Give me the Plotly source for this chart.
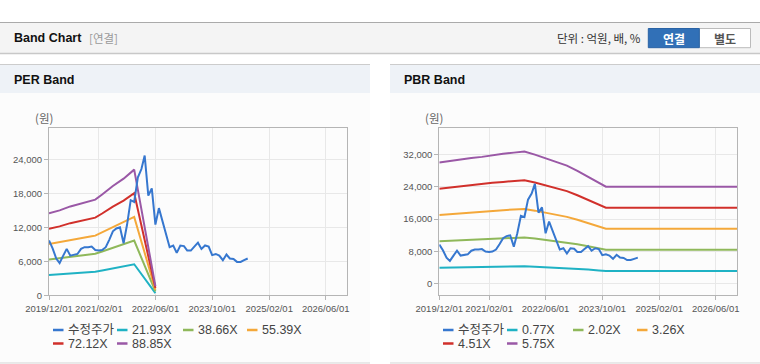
import pandas as pd
import plotly.graph_objects as go

W, H = 760, 364

# ---------------- data ----------------
price_dates = [d.strftime("%Y-%m-%d") for d in pd.date_range("2019-12-01", periods=57, freq="MS")]
price = [9700, 8300, 6500, 5700, 7000, 8200, 7000, 7200, 7300, 8200,
         8500, 8500, 8600, 8000, 7900, 8000, 8500, 9800, 11300, 11800,
         12000, 9200, 12500, 16800, 16500, 20800, 22300, 24700, 17600, 18900,
         12500, 15400, 13000, 10500, 8500, 8800, 7500, 8800, 8700, 7900,
         7900, 8600, 9300, 8200, 8800, 8600, 7100, 7300, 7000, 6200,
         7200, 6500, 6400, 5900, 5900, 6200, 6500]

per_dates = ["2019-12-01", "2020-03-01", "2020-06-01", "2020-09-01", "2020-12-01",
             "2021-01-01", "2021-03-01", "2021-06-01", "2021-09-01", "2021-12-01", "2022-06-01"]
per_names = ["21.93X", "38.66X", "55.39X", "72.12X", "88.85X"]
per_2193 = [3579, 3702, 3875, 3998, 4123, 4171, 4393, 4763, 5085, 5480, 395]
per_3866 = [6309, 6526, 6831, 7048, 7268, 7353, 7744, 8397, 8965, 9661, 696]
per_5539 = [9040, 9350, 9788, 10098, 10413, 10535, 11094, 12031, 12845, 13842, 997]
per_7212 = [11770, 12174, 12744, 13148, 13559, 13717, 14446, 15665, 16725, 18023, 1298]
per_8885 = [14500, 15000, 15700, 16200, 16700, 16900, 17800, 19300, 20600, 22200, 1600]

pbr_dates = ["2019-12-01", "2020-03-01", "2020-06-01", "2020-09-01", "2020-12-01",
             "2021-03-01", "2021-06-01", "2021-09-01", "2021-12-01", "2022-03-01",
             "2022-06-01", "2022-09-01", "2022-12-01", "2023-03-01", "2023-06-01",
             "2023-09-01", "2023-11-01", "2026-12-01"]
pbr_names = ["0.77X", "2.02X", "3.26X", "4.51X", "5.75X"]
pbr_077 = [4011, 4064, 4111, 4158, 4198, 4258, 4299, 4339, 4372, 4272, 4151, 4017, 3910, 3736, 3549, 3334, 3214, 3214]
pbr_202 = [10522, 10662, 10785, 10908, 11013, 11171, 11278, 11383, 11470, 11207, 10890, 10538, 10258, 9801, 9310, 8747, 8431, 8431]
pbr_326 = [16981, 17206, 17405, 17604, 17774, 18028, 18201, 18370, 18510, 18086, 17575, 17007, 16554, 15818, 15025, 14116, 13607, 13607]
pbr_451 = [23493, 23804, 24079, 24354, 24589, 24940, 25179, 25414, 25608, 25021, 24313, 23529, 22902, 21883, 20787, 19528, 18825, 18825]
pbr_575 = [29950, 30350, 30700, 31050, 31350, 31800, 32100, 32400, 32650, 31900, 31000, 30000, 29200, 27900, 26500, 24900, 24000, 24000]

x_tickvals = ["2019-12-01", "2021-02-01", "2022-06-01", "2023-10-01", "2025-02-01", "2026-06-01"]
x_ticktext = ["2019/12/01", "2021/02/01", "2022/06/01", "2023/10/01", "2025/02/01", "2026/06/01"]
per_yticks = [0, 6000, 12000, 18000, 24000]
pbr_yticks = [0, 8000, 16000, 24000, 32000]

price_name = "수정주가"
band_colors = ["#1fb2c4", "#8fb85a", "#f4a83a", "#d1302b", "#9a58a6"]
price_color = "#3677cf"

# ---------------- figure ----------------
fig = go.Figure()

per_bands = [per_2193, per_3866, per_5539, per_7212, per_8885]
pbr_bands = [pbr_077, pbr_202, pbr_326, pbr_451, pbr_575]

for vals, col in zip(per_bands, band_colors):
    fig.add_trace(go.Scatter(x=per_dates, y=vals, mode="lines", line=dict(color=col, width=2),
                             xaxis="x", yaxis="y", showlegend=False, hoverinfo="skip"))
fig.add_trace(go.Scatter(x=price_dates, y=price, mode="lines", line=dict(color=price_color, width=2),
                         xaxis="x", yaxis="y", showlegend=False))
for vals, col in zip(pbr_bands, band_colors):
    fig.add_trace(go.Scatter(x=pbr_dates, y=vals, mode="lines", line=dict(color=col, width=2),
                             xaxis="x2", yaxis="y2", showlegend=False, hoverinfo="skip"))
fig.add_trace(go.Scatter(x=price_dates, y=price, mode="lines", line=dict(color=price_color, width=2),
                         xaxis="x2", yaxis="y2", showlegend=False))


def px(x):
    return x / W


def py(y):
    return 1 - y / H


ydom = [py(295.3), py(128.3)]
axis_common = dict(showline=True, linecolor="#b5b5b5", linewidth=1, mirror=True, automargin=False,
                   ticks="outside", ticklen=4, tickcolor="#b5b5b5",
                   showgrid=True, gridcolor="#e8e8e8", zeroline=False,
                   tickfont=dict(family="Liberation Sans, Arial, sans-serif", size=9.5, color="#555"))
xaxis_common = dict(axis_common, type="date", range=["2019-12-01", "2026-12-01"], tickangle=0,
                    tickmode="array", tickvals=x_tickvals, ticktext=x_ticktext)

fig.update_layout(
    width=W, height=H, margin=dict(l=0, r=0, t=0, b=0, autoexpand=False),
    paper_bgcolor="white", plot_bgcolor="white",
    xaxis=dict(xaxis_common, domain=[px(49), px(347)], anchor="y"),
    yaxis=dict(axis_common, domain=ydom, range=[0, 29500], tickmode="array",
               tickvals=per_yticks, tickformat=",", anchor="x"),
    xaxis2=dict(xaxis_common, domain=[px(439.3), px(737)], anchor="y2"),
    yaxis2=dict(axis_common, domain=ydom, range=[-2800, 38400], tickmode="array",
                tickvals=pbr_yticks, tickformat=",", anchor="x2"),
    showlegend=False,
)

shapes = []
annotations = []
KR = "Noto Sans CJK KR, sans-serif"
LAT = "Liberation Sans, Arial, sans-serif"

# top header bar
shapes.append(dict(type="rect", xref="paper", yref="paper", x0=0, x1=1, y0=py(53.5), y1=py(22),
                   fillcolor="#f4f4f4", line=dict(width=0), layer="below"))
shapes.append(dict(type="line", xref="paper", yref="paper", x0=0, x1=1, y0=py(22.5), y1=py(22.5),
                   line=dict(color="#aaaaaa", width=1)))
shapes.append(dict(type="line", xref="paper", yref="paper", x0=0, x1=1, y0=py(53.5), y1=py(53.5),
                   line=dict(color="#c8c8c8", width=1.5)))
annotations.append(dict(xref="paper", yref="paper", x=px(11.5), y=py(38.5), xanchor="left", yanchor="middle",
                        text="<b>Band Chart</b>", showarrow=False,
                        font=dict(family=LAT, size=12.5, color="#111")))
annotations.append(dict(xref="paper", yref="paper", x=px(87), y=py(38.5), xanchor="left", yanchor="middle",
                        text="[연결]", showarrow=False, font=dict(family=KR, size=11.5, color="#999")))
annotations.append(dict(xref="paper", yref="paper", x=px(643), y=py(38.5), xanchor="right", yanchor="middle",
                        text="단위 : 억원, 배, %", showarrow=False, font=dict(family=KR, size=11.5, color="#333")))
# buttons
shapes.append(dict(type="rect", xref="paper", yref="paper", x0=px(699.3), x1=px(750.5), y0=py(47.7), y1=py(28.5),
                   fillcolor="white", line=dict(color="#bbbbbb", width=1)))
shapes.append(dict(type="rect", xref="paper", yref="paper", x0=px(648.3), x1=px(699.3), y0=py(47.7), y1=py(28.5),
                   fillcolor="#3170b7", line=dict(color="#2a63a5", width=1)))
annotations.append(dict(xref="paper", yref="paper", x=px(674), y=py(38.5), xanchor="center", yanchor="middle",
                        text="<b>연결</b>", showarrow=False, font=dict(family=KR, size=12, color="white")))
annotations.append(dict(xref="paper", yref="paper", x=px(725), y=py(38.5), xanchor="center", yanchor="middle",
                        text="<b>별도</b>", showarrow=False, font=dict(family=KR, size=12, color="#555")))

# panels
for x0, x1, title in [(0, 370, "PER Band"), (390, 760, "PBR Band")]:
    shapes.append(dict(type="rect", xref="paper", yref="paper", x0=px(x0), x1=px(x1), y0=py(363), y1=py(93),
                       fillcolor="#fcfcfc", line=dict(width=0), layer="below"))
    shapes.append(dict(type="rect", xref="paper", yref="paper", x0=px(x0), x1=px(x1), y0=py(93), y1=py(64.5),
                       fillcolor="#eef2f7", line=dict(width=0), layer="below"))
    shapes.append(dict(type="line", xref="paper", yref="paper", x0=px(x0), x1=px(x1), y0=py(64.5), y1=py(64.5),
                       line=dict(color="#cccccc", width=1)))
    shapes.append(dict(type="line", xref="paper", yref="paper", x0=px(x0), x1=px(x1), y0=py(363), y1=py(363),
                       line=dict(color="#d5d5d5", width=1)))
    annotations.append(dict(xref="paper", yref="paper", x=px(x0 + 11.5), y=py(80), xanchor="left",
                            yanchor="middle", text="<b>" + title + "</b>", showarrow=False,
                            font=dict(family=LAT, size=12.5, color="#111")))
    annotations.append(dict(xref="paper", yref="paper", x=px(x0 + 33), y=py(118), xanchor="left",
                            yanchor="middle", text="(원)", showarrow=False,
                            font=dict(family=KR, size=11.5, color="#666")))

# manual legends
def legend(offset, names):
    items = [price_name] + names
    cols = [price_color] + band_colors
    slots = [(53, 330), (117, 330), (183, 330), (247, 330), (53, 343.5), (117, 343.5)]
    for (sx, sy), name, col in zip(slots, items, cols):
        x = sx + offset
        shapes.append(dict(type="line", xref="paper", yref="paper", x0=px(x), x1=px(x + 10.5),
                           y0=py(sy), y1=py(sy), line=dict(color=col, width=2.5)))
        annotations.append(dict(xref="paper", yref="paper", x=px(x + 12.5), y=py(sy), xanchor="left",
                                yanchor="middle", text=name, showarrow=False,
                                font=dict(family=LAT + ", " + KR, size=12.5, color="#444")))


legend(0, per_names)
legend(390, pbr_names)

fig.update_layout(shapes=shapes, annotations=annotations)
fig.write_html("out.html", config={"displayModeBar": False},
               post_script="document.body.style.margin='0';document.body.style.overflow='hidden';")
